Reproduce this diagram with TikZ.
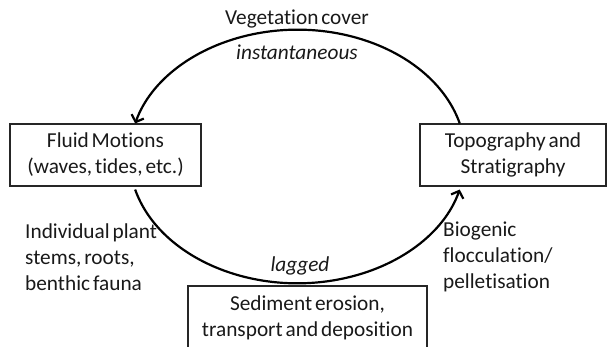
\documentclass[tikz,border=0pt]{standalone}
\usepackage{fontspec}
\setmainfont[WordSpace={0.6},RawFeature={-liga}]{Carlito}
\usetikzlibrary{arrows.meta}
\tikzset{
  box/.style={draw=black!85, line width=1.1pt, inner sep=0pt, align=center, text=black!90,
    font=\fontsize{21.3}{26}\selectfont},
  lbl/.style={inner sep=0pt, align=left, text=black!90, font=\fontsize{21.3}{26}\selectfont},
  cyc/.style={line width=2.2pt, -{Straight Barb[length=6pt,width=13pt]}},
}
\begin{document}
\begin{tikzpicture}[x=1pt,y=1pt]
\useasboundingbox (0,0) rectangle (608,347);
\node[box, minimum width=191pt, minimum height=62pt] (fm) at (105.5,192) {Fluid Motions\\(waves, tides, etc.)};
\node[box, minimum width=186pt, minimum height=62pt] (tp) at (513,192) {Topography and\\Stratigraphy};
\node[box, minimum width=239pt, minimum height=64pt] (sed) at (307.5,29) {Sediment erosion,\\transport and deposition};
\draw[cyc] (tp.north west) ++(40.3,0) arc[start angle=15, end angle=165, x radius=168, y radius=126.5];
\draw[cyc] (fm.south west) ++(125.7,-3) arc[start angle=195, end angle=345, x radius=168, y radius=126.5];
\node[lbl, anchor=center] (veg) at (297,328) {Vegetation cover};
\node[lbl, anchor=center] (inst) at (297,295) {\itshape instantaneous};
\node[lbl, anchor=center] (lag) at (300,81) {\itshape lagged};
\node[lbl, anchor=west] (ind) at (25,90) {Individual plant\\stems, roots,\\benthic fauna};
\node[lbl, anchor=west] (bio) at (443,90) {Biogenic\\flocculation/\\pelletisation};
\end{tikzpicture}
\end{document}
